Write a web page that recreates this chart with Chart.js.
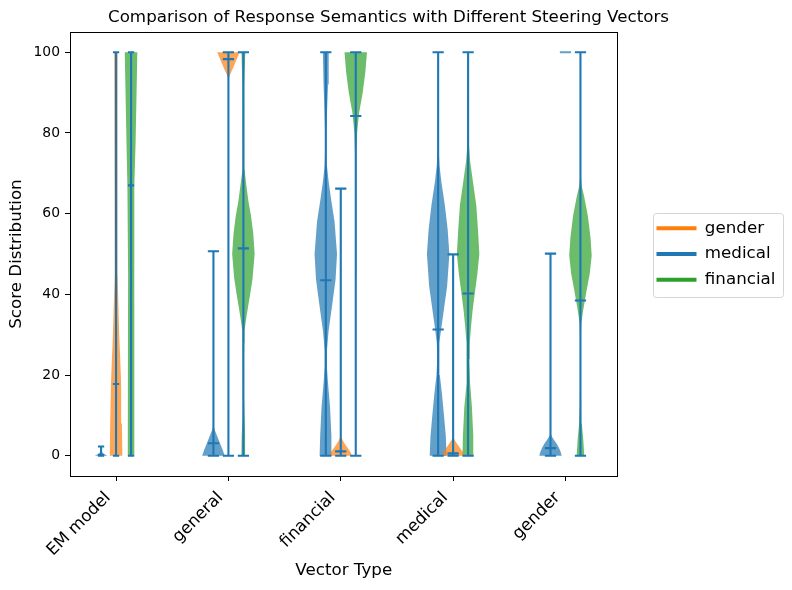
<!DOCTYPE html>
<html>
<head>
<meta charset="utf-8">
<script src="https://cdn.jsdelivr.net/npm/chart.js@4.4.1/dist/chart.umd.min.js"></script>
<style>html,body{margin:0;padding:0;background:#fff;}canvas{display:block;}</style>
</head>
<body>
<canvas id="c" width="792" height="590"></canvas>
<script>
// ---------------- DATA ----------------
const categories = ['EM model', 'general', 'financial', 'medical', 'gender'];
const seriesNames = ['gender', 'medical', 'financial'];
const yTicks = [0, 20, 40, 60, 80, 100];

// min / max / mean per category
const genderMin = [0, 0, 0, 0, 100];
const genderMax = [100, 100, 66.2, 49.9, 100];
const genderMean = [17.8, 98.3, 1.1, 0.6, 100];

const medicalMin = [0, 0, 0, 0, 0];
const medicalMax = [2.3, 50.7, 100, 100, 50.1];
const medicalMean = [0.2, 3.1, 43.5, 31.3, 1.9];

const financialMin = [0, 0, 0, 0, 0];
const financialMax = [100, 100, 100, 100, 100];
const financialMean = [67, 51.4, 84.2, 40.2, 38.5];

// estimated density profiles [score, relative density] per category
const genderDensity = [
  [[0,1],[8,0.93],[17.8,0.81],[24,0.66],[29,0.52],[37,0.37],[45,0.26],[55,0.2],[70,0.2],[85,0.24],[100,0.3]],
  [[0,0],[90,0],[93.3,0.02],[94.5,0.15],[96,0.4],[98,0.7],[100,1]],
  [[0,1],[1,0.85],[2,0.6],[3,0.35],[4,0.15],[5,0.03],[7,0],[66.2,0]],
  [[0,1],[1,0.85],[2,0.6],[3,0.35],[4,0.12],[5,0.02],[7,0],[49.9,0]],
  [[100,0]]
];
const medicalDensity = [
  [[0,1],[0.4,0.55],[0.8,0.2],[1.4,0.05],[2.3,0.02]],
  [[0,1],[1.5,0.82],[3,0.6],[5,0.32],[6.5,0.1],[7.5,0.02],[10,0],[50.7,0]],
  [[0,0.55],[5,0.5],[12,0.38],[18,0.2],[22,0.1],[26,0.1],[31,0.25],[37,0.55],[43.7,0.87],[50,1],[58,0.78],[64,0.45],[68,0.25],[72,0.1],[76,0.06],[80,0.06],[86,0.12],[92,0.2],[100,0.26]],
  [[0,0.75],[5,0.68],[10,0.52],[15,0.35],[20,0.15],[24,0.08],[28,0.12],[32,0.3],[37,0.55],[42,0.8],[50,1],[56,0.85],[62,0.6],[68,0.28],[72,0.12],[76,0.05],[85,0.03],[100,0.02]],
  [[0,1],[1,0.9],[2,0.75],[3,0.55],[4,0.3],[5,0.08],[6,0],[50.1,0]]
];
const financialDensity = [
  [[0,0.52],[20,0.5],[45,0.47],[67,0.58],[78,0.73],[87,0.84],[100,1]],
  [[0,0.18],[5,0.15],[10,0.1],[15,0.05],[22,0.04],[28,0.07],[31,0.1],[34,0.25],[37,0.42],[40,0.6],[44,0.82],[50,1],[55,0.88],[59.4,0.68],[63,0.45],[67.7,0.23],[71,0.1],[76,0.06],[85,0.06],[92,0.1],[100,0.17]],
  [[0,0],[30,0],[38,0.02],[45,0.05],[60,0.06],[75,0.07],[80,0.12],[85,0.3],[90,0.62],[95,0.85],[100,1]],
  [[0,0.5],[5,0.46],[12,0.34],[18,0.18],[24,0.1],[28,0.15],[32,0.26],[36,0.4],[40.4,0.6],[45,0.82],[50,1],[56,0.88],[62,0.73],[68.5,0.4],[73,0.18],[77,0.08],[85,0.06],[100,0.05]],
  [[0,0.34],[4,0.25],[8,0.12],[12,0.06],[20,0.03],[30,0.04],[33,0.08],[36.2,0.25],[41.2,0.56],[45,0.82],[49.6,1],[54,0.9],[59.4,0.66],[64.4,0.32],[67,0.1],[70,0.03],[80,0.01],[100,0]]
];

// ---------------- STYLE / LAYOUT ----------------
const FONT = 'DejaVu Sans';
const LINE_COLOR = '#1f77b4';
const seriesColors = {gender: '#ff7f0e', medical: '#1f77b4', financial: '#2ca02c'};
const seriesOffsetIndex = {gender: 0, medical: -1, financial: 1};
const OFFSET_STEP = 0.4 / 3;
const groupWidths = [0.112, 0.2, 0.2, 0.2, 0.2];

const seriesData = {
  gender: {min: genderMin, max: genderMax, mean: genderMean, density: genderDensity},
  medical: {min: medicalMin, max: medicalMax, mean: medicalMean, density: medicalDensity},
  financial: {min: financialMin, max: financialMax, mean: financialMean, density: financialDensity}
};

function hexA(hex, a) {
  const n = parseInt(hex.slice(1), 16);
  return `rgba(${(n >> 16) & 255},${(n >> 8) & 255},${n & 255},${a})`;
}

const datasets = [];
seriesNames.forEach(name => {
  const s = seriesData[name];
  categories.forEach((cat, i) => {
    const pos = i + seriesOffsetIndex[name] * OFFSET_STEP;
    const w = groupWidths[i];
    const prof = s.density[i];
    if (prof.some(p => p[1] > 0)) {
      const pts = [];
      prof.forEach(([v, d]) => pts.push({x: pos + d * w / 2, y: v}));
      prof.slice().reverse().forEach(([v, d]) => pts.push({x: pos - d * w / 2, y: v}));
      datasets.push({
        type: 'line', label: name + ' body', data: pts,
        showLine: true, fill: 'shape', borderWidth: 0, borderColor: 'rgba(0,0,0,0)',
        backgroundColor: hexA(seriesColors[name], 0.7), pointRadius: 0, tension: 0, order: 2
      });
    }
    const mn = s.min[i], mx = s.max[i], me = s.mean[i], cap = w / 4;
    datasets.push({
      type: 'line', label: name + ' lines',
      data: [
        {x: pos, y: mn}, {x: pos, y: mx}, {x: pos, y: null},
        {x: pos - cap, y: mn}, {x: pos + cap, y: mn}, {x: pos, y: null},
        {x: pos - cap, y: mx}, {x: pos + cap, y: mx}, {x: pos, y: null},
        {x: pos - cap, y: me}, {x: pos + cap, y: me}
      ],
      showLine: true, fill: false, borderColor: mn === mx ? hexA(LINE_COLOR, 0.7) : LINE_COLOR,
      borderWidth: 2.1, pointRadius: 0, tension: 0, spanGaps: false, order: 1
    });
  });
});

const legendFrame = {
  id: 'legendFrame',
  afterDraw(chart) {
    const hb = chart.legend && chart.legend.legendHitBoxes;
    if (!hb || !hb.length) return;
    const ctx = chart.ctx;
    const l = Math.min(...hb.map(h => h.left)) - 4;
    const r = Math.max(...hb.map(h => h.left + h.width)) + 7;
    const t = hb[0].top - 7;
    const b = hb[hb.length - 1].top + hb[hb.length - 1].height + 9;
    ctx.save();
    ctx.strokeStyle = '#d5d5d5';
    ctx.lineWidth = 1;
    ctx.beginPath();
    ctx.roundRect(Math.round(l) + 0.5, Math.round(t) + 0.5, Math.round(r - l), Math.round(b - t), 3);
    ctx.stroke();
    ctx.restore();
  }
};

Chart.defaults.font.family = FONT;
Chart.defaults.color = '#000';

new Chart(document.getElementById('c'), {
  type: 'scatter',
  data: {datasets},
  plugins: [legendFrame],
  options: {
    responsive: false,
    animation: false,
    events: [],
    layout: {padding: {left: 0, right: 15, top: 0, bottom: 0}},
    plugins: {
      title: {display: true, text: 'Comparison of Response Semantics with Different Steering Vectors',
        font: {size: 16.7, weight: 'normal'}, color: '#000', padding: {top: 8, bottom: 4}},
      legend: {
        display: true, position: 'right', align: 'center', fullSize: false,
        labels: {
          font: {size: 16.7}, color: '#000', boxWidth: 40, boxHeight: 4, padding: 9,
          generateLabels: () => seriesNames.map(n => ({
            text: n, fillStyle: seriesColors[n], strokeStyle: seriesColors[n], lineWidth: 0, hidden: false
          }))
        },
        onClick: null
      },
      tooltip: {enabled: false}
    },
    scales: {
      x: {
        type: 'linear', position: 'bottom', min: -0.41, max: 4.463,
        afterBuildTicks: s => { s.ticks = categories.map((c, i) => ({value: i})); },
        ticks: {callback: v => categories[v] ?? '', autoSkip: false, minRotation: 45, maxRotation: 45,
          font: {size: 16.7}, color: '#000', padding: 7, labelOffset: -8},
        grid: {drawOnChartArea: false, drawTicks: true, tickLength: 5, color: '#000'},
        border: {display: true, color: '#000', width: 1},
        title: {display: true, text: 'Vector Type', font: {size: 16.7}, color: '#000', padding: {top: 0, bottom: 9}},
        afterFit: s => { s.height = 114; }
      },
      y: {
        type: 'linear', position: 'left', min: -5, max: 105,
        afterBuildTicks: s => { s.ticks = yTicks.map(v => ({value: v})); },
        ticks: {font: {size: 13.9}, color: '#000', padding: 5},
        grid: {drawOnChartArea: false, drawTicks: true, tickLength: 5, color: '#000'},
        border: {display: true, color: '#000', width: 1},
        title: {display: true, text: 'Score Distribution', font: {size: 16.7}, color: '#000', padding: {top: 7, bottom: 0}},
        afterFit: s => { s.width = 70; }
      },
      x2: {
        type: 'linear', position: 'top', min: -0.41, max: 4.463,
        ticks: {display: false}, grid: {drawOnChartArea: false, drawTicks: false},
        border: {display: true, color: '#000', width: 1},
        afterFit: s => { s.height = 0; }
      },
      y2: {
        type: 'linear', position: 'right', min: -5, max: 105,
        ticks: {display: false}, grid: {drawOnChartArea: false, drawTicks: false},
        border: {display: true, color: '#000', width: 1},
        afterFit: s => { s.width = 30; }
      }
    }
  }
});
</script>
</body>
</html>
